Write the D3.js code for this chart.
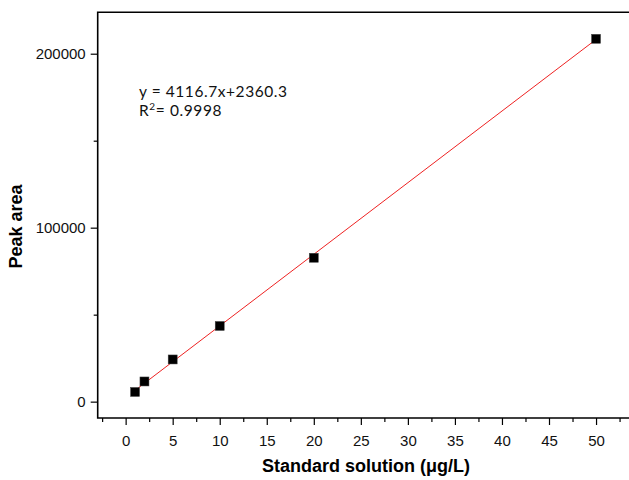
<!DOCTYPE html>
<html>
<head>
<meta charset="utf-8">
<script src="https://cdn.jsdelivr.net/npm/d3@7"></script>
<style>
  html, body { margin: 0; padding: 0; background: #fff; }
  svg { display: block; }
</style>
</head>
<body>
<svg id="chart" width="629" height="480"></svg>
<script>
// ---- data ----
const concentrations = [1, 2, 5, 10, 20, 50];            // µg/L
const peakAreas = [5570, 11600, 24250, 43500, 82700, 208560];
const xTickValues = [0, 5, 10, 15, 20, 25, 30, 35, 40, 45, 50];
const xMinorTicks = [-2.5, 2.5, 7.5, 12.5, 17.5, 22.5, 27.5, 32.5, 37.5, 42.5, 47.5, 52.5];
const yTickValues = [0, 100000, 200000];
const yMinorTicks = [50000, 150000];
const fitSlope = 4116.7;
const fitIntercept = 2360.3;
const equationText = "y = 4116.7x+2360.3";
const r2Text = "0.9998";
const xTitle = "Standard solution (μg/L)";
const yTitle = "Peak area";

(function () {
// ---- layout ----
const svg = d3.select("#chart");
const pLeft = 97.7, pTop = 12.3, pBottom = 418;
const x = d3.scaleLinear().domain([-2.97, 55.5]).range([pLeft, pLeft + 58.47 * 9.408]);
const y = d3.scaleLinear().domain([-9400, 223800]).range([pBottom, pTop]);

const axisFont = "'Liberation Sans', Arial, sans-serif";

// frame (right side runs off the image)
const pRight = x(55.5);
svg.append("path")
  .attr("d", `M${pRight},${pTop}H${pLeft}V${pBottom}H${pRight}`)
  .attr("fill", "none").attr("stroke", "#000").attr("stroke-width", 1.6);

// x axis
const gx = svg.append("g").attr("transform", `translate(0,${pBottom})`);
gx.call(d3.axisBottom(x).tickValues(xTickValues).tickSize(7).tickPadding(10).tickFormat(d3.format("d")));
gx.select(".domain").remove();
gx.selectAll(".tick line").attr("stroke", "#000").attr("stroke-width", 1.2);
gx.selectAll(".tick text").attr("font-family", axisFont).attr("font-size", 15).attr("fill", "#111");
const gxm = svg.append("g").attr("transform", `translate(0,${pBottom})`);
gxm.call(d3.axisBottom(x).tickValues(xMinorTicks).tickSize(4).tickFormat(""));
gxm.select(".domain").remove();
gxm.selectAll(".tick line").attr("stroke", "#000").attr("stroke-width", 1.2);

// y axis
const gy = svg.append("g").attr("transform", `translate(${pLeft},0)`);
gy.call(d3.axisLeft(y).tickValues(yTickValues).tickSize(7).tickPadding(5).tickFormat(d3.format("d")));
gy.select(".domain").remove();
gy.selectAll(".tick line").attr("stroke", "#000").attr("stroke-width", 1.2);
gy.selectAll(".tick text").attr("font-family", axisFont).attr("font-size", 15).attr("fill", "#111");
const gym = svg.append("g").attr("transform", `translate(${pLeft},0)`);
gym.call(d3.axisLeft(y).tickValues(yMinorTicks).tickSize(4).tickFormat(""));
gym.select(".domain").remove();
gym.selectAll(".tick line").attr("stroke", "#000").attr("stroke-width", 1.2);

// titles
svg.append("text")
  .attr("x", 366).attr("y", 472)
  .attr("text-anchor", "middle")
  .attr("font-family", axisFont).attr("font-weight", "bold").attr("font-size", 18)
  .text(xTitle);
svg.append("text")
  .attr("transform", `translate(22,${226.5}) rotate(-90)`)
  .attr("text-anchor", "middle")
  .attr("font-family", axisFont).attr("font-weight", "bold").attr("font-size", 18)
  .text(yTitle);

// regression line
const xExt = d3.extent(concentrations);
svg.append("line")
  .attr("x1", x(xExt[0])).attr("y1", y(fitSlope * xExt[0] + fitIntercept))
  .attr("x2", x(xExt[1])).attr("y2", y(fitSlope * xExt[1] + fitIntercept))
  .attr("stroke", "#ee2222").attr("stroke-width", 1);

// points
const pts = concentrations.map((c, i) => ({ c, a: peakAreas[i] }));
const s = 9;
svg.append("g").selectAll("rect").data(pts).join("rect")
  .attr("x", d => x(d.c) - s / 2)
  .attr("y", d => y(d.a) - s / 2)
  .attr("width", s).attr("height", s)
  .attr("fill", "#000").attr("stroke", "#444").attr("stroke-width", 0.5);

// equation annotation
const annFont = "Lato, 'Noto Sans', sans-serif";
svg.append("text")
  .attr("x", 139).attr("y", 96.5)
  .attr("font-family", annFont).attr("font-size", 15.5).attr("fill", "#111")
  .attr("textLength", 148).attr("lengthAdjust", "spacing")
  .text(equationText);
const r2 = svg.append("text")
  .attr("x", 139).attr("y", 115.5)
  .attr("font-family", annFont).attr("font-size", 15.5).attr("fill", "#111")
  .attr("letter-spacing", 0.6);
r2.append("tspan").text("R");
r2.append("tspan").attr("font-size", 10).attr("dy", -6).text("2");
r2.append("tspan").attr("dy", 6).text("= " + r2Text);
})();
</script>
</body>
</html>
